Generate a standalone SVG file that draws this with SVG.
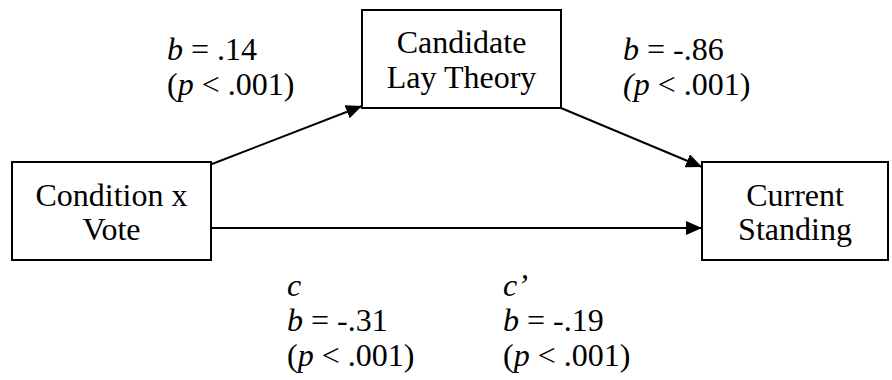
<svg xmlns="http://www.w3.org/2000/svg" width="892" height="380" viewBox="0 0 892 380">
<defs>
<style>
.box{fill:#fff;stroke:#000;stroke-width:2}
.t{font-family:'Liberation Serif','Times New Roman',serif;font-size:32px;fill:#000}
.c{text-anchor:middle}
.i{font-style:italic}
.edge{stroke:#000;stroke-width:2;fill:none}
</style>
<marker id="ah" markerUnits="userSpaceOnUse" markerWidth="16" markerHeight="14" refX="16" refY="7" orient="auto">
<path d="M0,0 L16,7 L0,14 Z" fill="#000"/>
</marker>
</defs>
<rect width="892" height="380" fill="#fff"/>
<g id="connectors">
<line class="edge" x1="212" y1="164" x2="362" y2="106" marker-end="url(#ah)"/>
<line class="edge" x1="561" y1="108" x2="702" y2="167" marker-end="url(#ah)"/>
<line class="edge" x1="211" y1="228" x2="702" y2="228" marker-end="url(#ah)"/>
</g>
<g id="node-condition">
<rect class="box" x="12" y="162" width="199" height="98"/>
<text class="t c" x="111.5" y="206">Condition x</text>
<text class="t c" x="111.5" y="240">Vote</text>
</g>
<g id="node-candidate">
<rect class="box" x="362" y="10" width="199" height="98"/>
<text class="t c" x="461.5" y="53">Candidate</text>
<text class="t c" x="461.5" y="88">Lay Theory</text>
</g>
<g id="node-standing">
<rect class="box" x="702" y="162" width="186" height="98"/>
<text class="t c" x="795" y="206">Current</text>
<text class="t c" x="795" y="240">Standing</text>
</g>
<g id="labels">
<text class="t" x="167" y="60"><tspan class="i">b</tspan> = .14</text>
<text class="t" x="167" y="95">(<tspan class="i">p</tspan> &lt; .001)</text>
<text class="t" x="623" y="60"><tspan class="i">b</tspan> = -.86</text>
<text class="t" x="623" y="95"><tspan class="i">(p</tspan> &lt; .001)</text>
<text class="t i" x="287" y="296">c</text>
<text class="t" x="287" y="331"><tspan class="i">b</tspan> = -.31</text>
<text class="t" x="287" y="366">(<tspan class="i">p</tspan> &lt; .001)</text>
<text class="t i" x="503" y="296">c’</text>
<text class="t" x="503" y="331"><tspan class="i">b</tspan> = -.19</text>
<text class="t" x="503" y="366">(<tspan class="i">p</tspan> &lt; .001)</text>
</g>
</svg>
